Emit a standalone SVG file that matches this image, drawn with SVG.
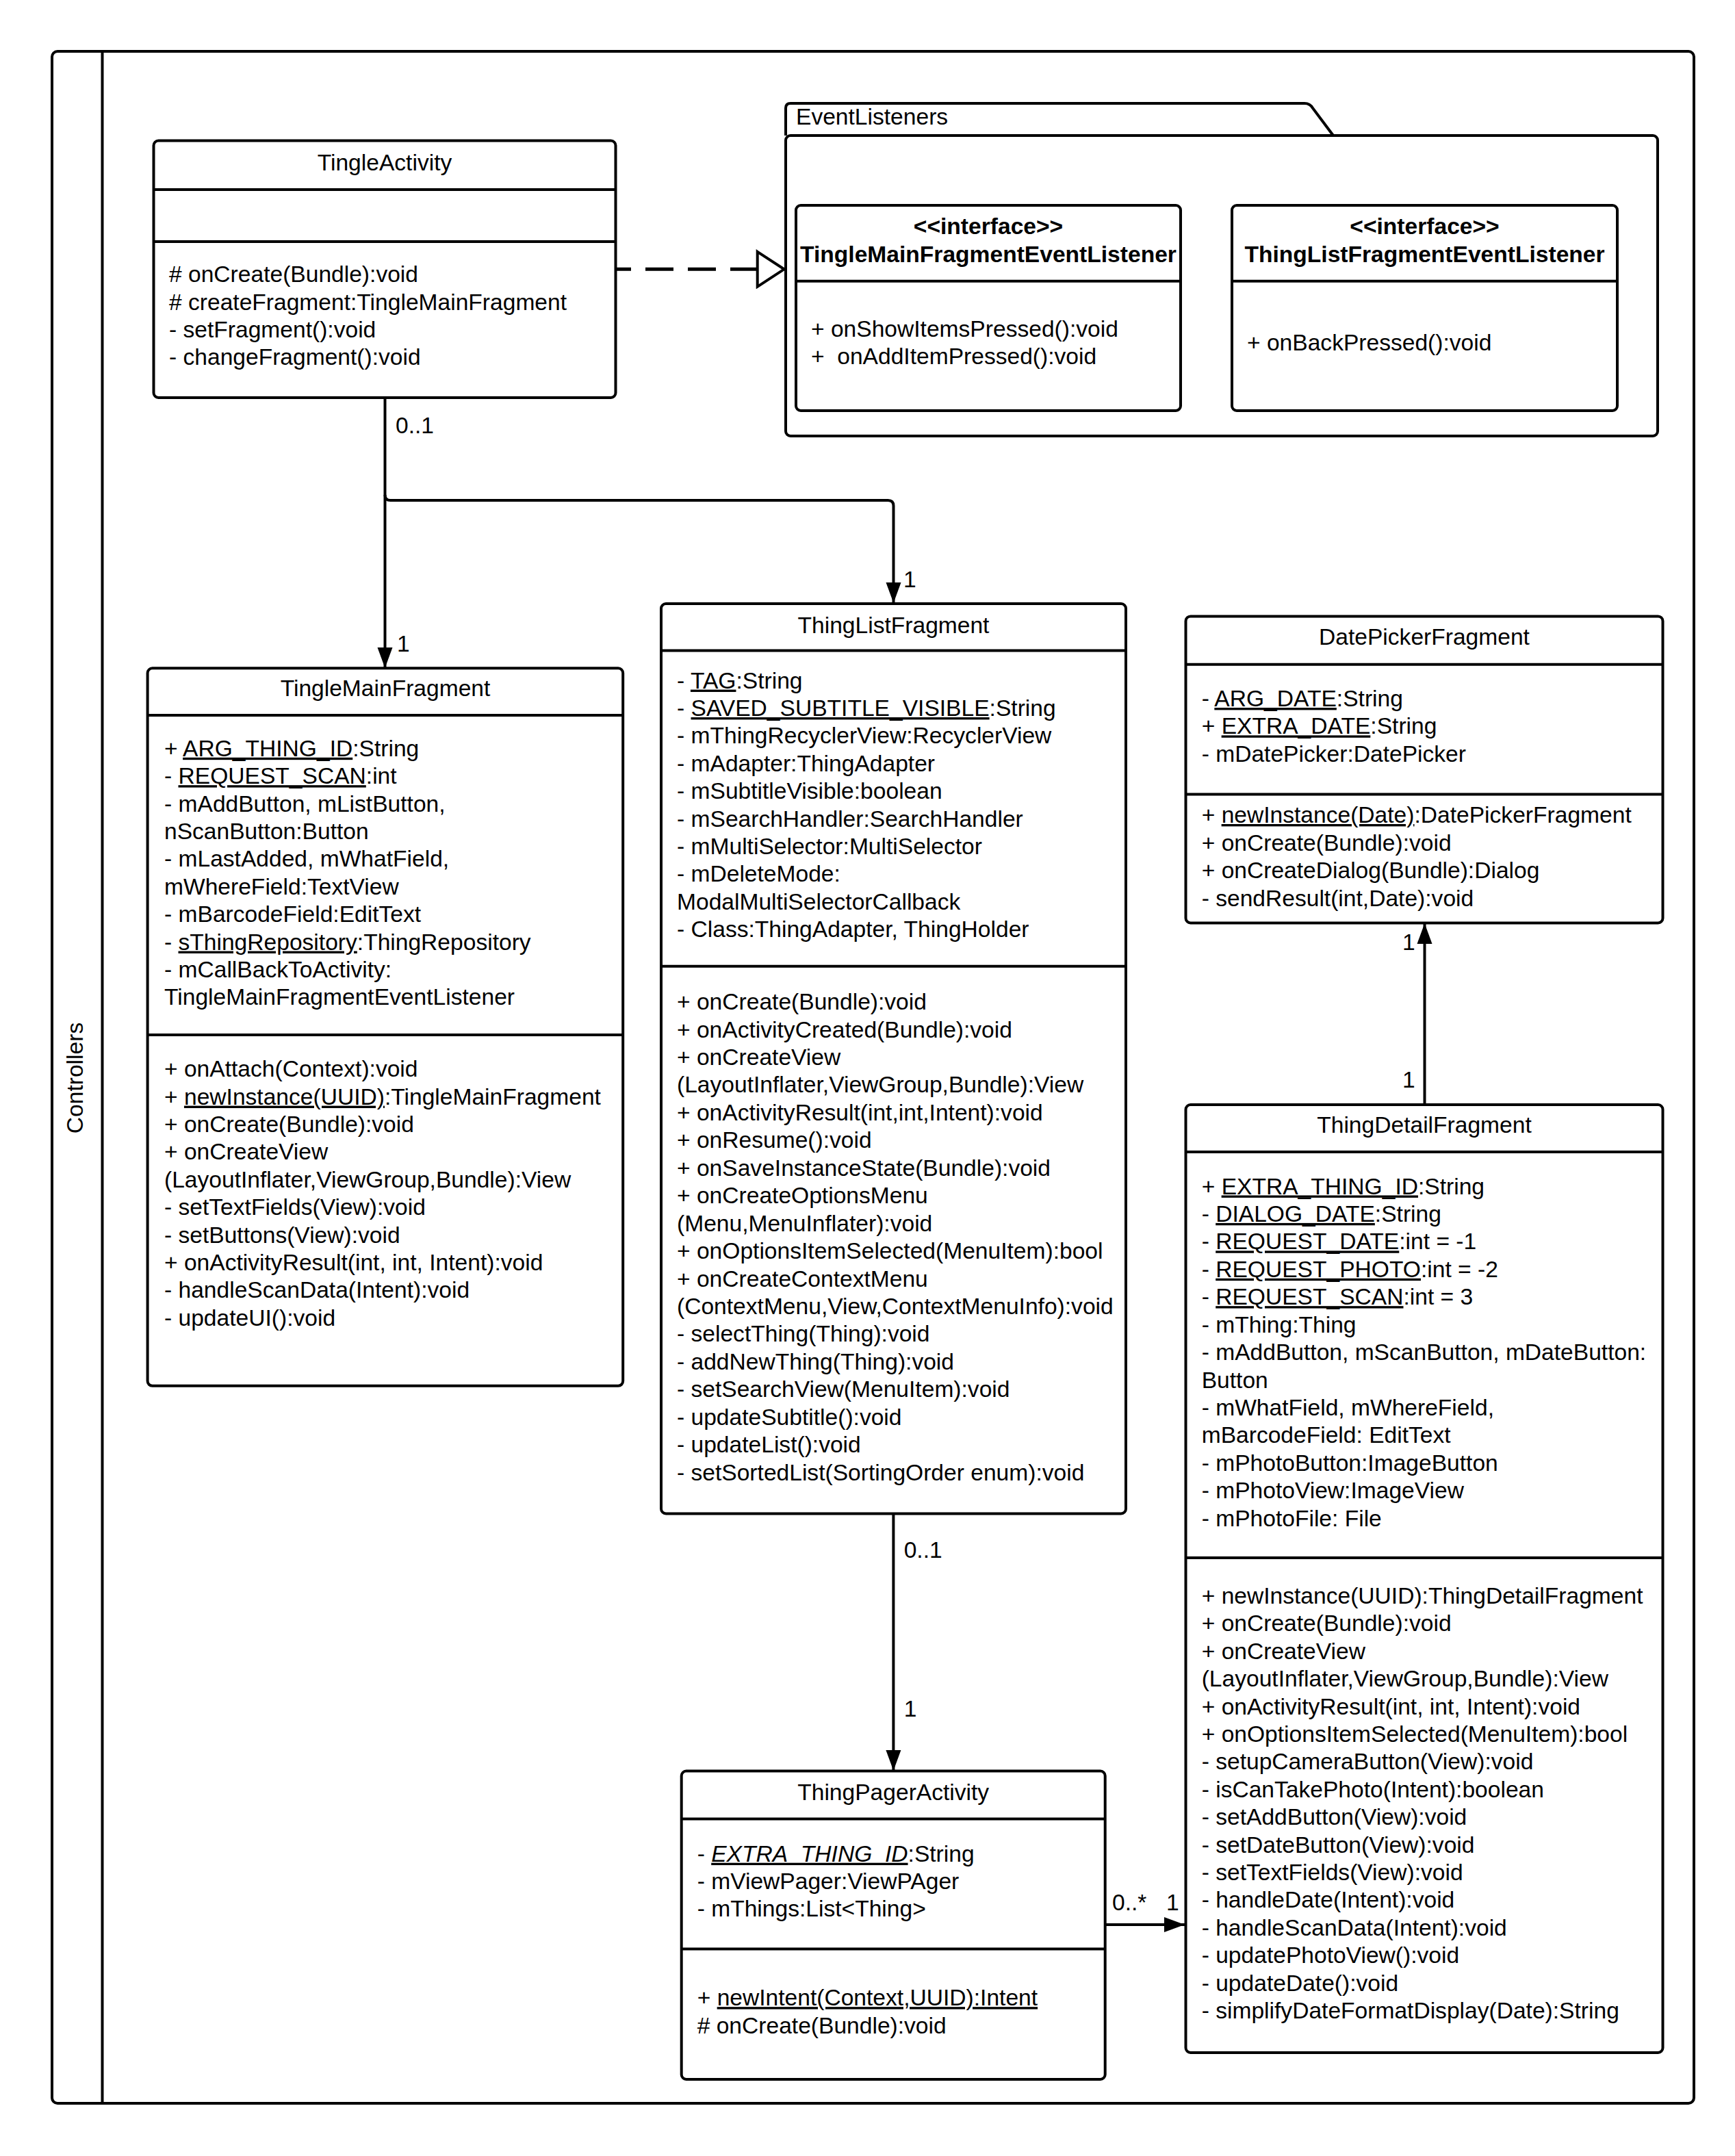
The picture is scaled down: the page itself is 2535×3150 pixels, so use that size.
<svg xmlns="http://www.w3.org/2000/svg" width="2535" height="3150" viewBox="0 0 2535 3150">
  <style>
    text { font-family: "Liberation Sans", Arial, Helvetica, sans-serif; font-size: 33.6px; fill: #000; }
    .c { text-anchor: middle; }
    .b { font-weight: bold; }
    .u { text-decoration: underline; }
    .i { font-style: italic; }
    .box { fill: #fff; stroke: #000; stroke-width: 4; }
    .sep { stroke: #000; stroke-width: 4; fill: none; }
    .frame { fill: none; stroke: #000; stroke-width: 4; }
    .wire { fill: none; stroke: #000; stroke-width: 4; }
    .dash { fill: none; stroke: #000; stroke-width: 5; stroke-dasharray: 41 21; stroke-dashoffset: 20; }
  </style>
  <defs>
    <!-- filled navigable-association arrowhead -->
    <marker id="arrow" markerUnits="userSpaceOnUse" markerWidth="32" markerHeight="24" viewBox="0 0 32 24" refX="30" refY="12" orient="auto">
      <path d="M0,1 L30,12 L0,23 z" fill="#000"/>
    </marker>
    <!-- hollow realization triangle -->
    <marker id="realize" markerUnits="userSpaceOnUse" markerWidth="46" markerHeight="58" viewBox="0 0 46 58" refX="3" refY="29" orient="auto">
      <path d="M3,3.5 L42,29 L3,54.5 z" fill="#fff" stroke="#000" stroke-width="4"/>
    </marker>
  </defs>

  <rect x="0" y="0" width="2535" height="3150" fill="#fff"/>

  <!-- swimlane frame -->
  <g id="controllers-lane">
    <rect class="frame" x="76" y="75" width="2399" height="2998" rx="8"/>
    <line class="sep" x1="149.5" y1="75" x2="149.5" y2="3073"/>
    <text class="c" transform="translate(120.5,1575) rotate(-90)">Controllers</text>
  </g>

  <!-- EventListeners package -->
  <g id="event-listeners-package">
    <path class="box" d="M1148,198 V158 Q1148,151 1155,151 H1906 Q1914,151 1918,158 L1948,198"/>
    <rect class="box" x="1148" y="198" width="1274" height="439" rx="7"/>
    <text x="1163" y="182">EventListeners</text>
  </g>

  <g id="TingleMainFragmentEventListener">
    <rect class="box" x="1163" y="300" width="562" height="300" rx="7"/>
    <line class="sep" x1="1163" y1="410.7" x2="1725" y2="410.7"/>
    <text class="c b" x="1444" y="342">&lt;&lt;interface&gt;&gt;</text>
    <text class="c b" x="1444" y="383">TingleMainFragmentEventListener</text>
    <text x="1185" y="492">+ onShowItemsPressed():void</text>
    <text x="1185" y="532" xml:space="preserve">+  onAddItemPressed():void</text>
  </g>

  <g id="ThingListFragmentEventListener">
    <rect class="box" x="1800" y="300" width="563" height="300" rx="7"/>
    <line class="sep" x1="1800" y1="410.7" x2="2363" y2="410.7"/>
    <text class="c b" x="2081.5" y="342">&lt;&lt;interface&gt;&gt;</text>
    <text class="c b" x="2081.5" y="383">ThingListFragmentEventListener</text>
    <text x="1822" y="512">+ onBackPressed():void</text>
  </g>

  <g id="TingleActivity">
    <rect class="box" x="224.5" y="205.5" width="675" height="375.5" rx="7"/>
    <line class="sep" x1="224.5" y1="277" x2="899.5" y2="277"/>
    <line class="sep" x1="224.5" y1="353" x2="899.5" y2="353"/>
    <text class="c" x="562" y="249">TingleActivity</text>
    <text x="247" y="412.2"># onCreate(Bundle):void</text>
    <text x="247" y="452.6"># createFragment:TingleMainFragment</text>
    <text x="247" y="493">- setFragment():void</text>
    <text x="247" y="533.4">- changeFragment():void</text>
  </g>

  <g id="TingleMainFragment">
    <rect class="box" x="215.6" y="976.3" width="694.6" height="1048.5" rx="7"/>
    <line class="sep" x1="215.6" y1="1045" x2="910.2" y2="1045"/>
    <line class="sep" x1="215.6" y1="1512" x2="910.2" y2="1512"/>
    <text class="c" x="563" y="1017">TingleMainFragment</text>
    <text x="240" y="1104.8">+ <tspan class="u">ARG_THING_ID</tspan>:String</text>
    <text x="240" y="1145.2">- <tspan class="u">REQUEST_SCAN</tspan>:int</text>
    <text x="240" y="1185.6">- mAddButton, mListButton,</text>
    <text x="240" y="1226">nScanButton:Button</text>
    <text x="240" y="1266.4">- mLastAdded, mWhatField,</text>
    <text x="240" y="1306.8">mWhereField:TextView</text>
    <text x="240" y="1347.2">- mBarcodeField:EditText</text>
    <text x="240" y="1387.6">- <tspan class="u">sThingRepository</tspan>:ThingRepository</text>
    <text x="240" y="1428">- mCallBackToActivity:</text>
    <text x="240" y="1468.4">TingleMainFragmentEventListener</text>
    <text x="240" y="1573.2">+ onAttach(Context):void</text>
    <text x="240" y="1613.6">+ <tspan class="u">newInstance(UUID)</tspan>:TingleMainFragment</text>
    <text x="240" y="1654">+ onCreate(Bundle):void</text>
    <text x="240" y="1694.4">+ onCreateView</text>
    <text x="240" y="1734.8">(LayoutInflater,ViewGroup,Bundle):View</text>
    <text x="240" y="1775.2">- setTextFields(View):void</text>
    <text x="240" y="1815.6">- setButtons(View):void</text>
    <text x="240" y="1856">+ onActivityResult(int, int, Intent):void</text>
    <text x="240" y="1896.4">- handleScanData(Intent):void</text>
    <text x="240" y="1936.8">- updateUI():void</text>
  </g>

  <g id="ThingListFragment">
    <rect class="box" x="966" y="882" width="679" height="1329.5" rx="7"/>
    <line class="sep" x1="966" y1="950.6" x2="1645" y2="950.6"/>
    <line class="sep" x1="966" y1="1411.8" x2="1645" y2="1411.8"/>
    <text class="c" x="1305.5" y="925">ThingListFragment</text>
    <text x="989" y="1005.6">- <tspan class="u">TAG</tspan>:String</text>
    <text x="989" y="1046">- <tspan class="u">SAVED_SUBTITLE_VISIBLE</tspan>:String</text>
    <text x="989" y="1086.4">- mThingRecyclerView:RecyclerView</text>
    <text x="989" y="1126.8">- mAdapter:ThingAdapter</text>
    <text x="989" y="1167.2">- mSubtitleVisible:boolean</text>
    <text x="989" y="1207.6">- mSearchHandler:SearchHandler</text>
    <text x="989" y="1248">- mMultiSelector:MultiSelector</text>
    <text x="989" y="1288.4">- mDeleteMode:</text>
    <text x="989" y="1328.8">ModalMultiSelectorCallback</text>
    <text x="989" y="1369.2">- Class:ThingAdapter, ThingHolder</text>
    <text x="989" y="1475">+ onCreate(Bundle):void</text>
    <text x="989" y="1515.5">+ onActivityCreated(Bundle):void</text>
    <text x="989" y="1555.9">+ onCreateView</text>
    <text x="989" y="1596.4">(LayoutInflater,ViewGroup,Bundle):View</text>
    <text x="989" y="1636.8">+ onActivityResult(int,int,Intent):void</text>
    <text x="989" y="1677.3">+ onResume():void</text>
    <text x="989" y="1717.7">+ onSaveInstanceState(Bundle):void</text>
    <text x="989" y="1758.2">+ onCreateOptionsMenu</text>
    <text x="989" y="1798.6">(Menu,MenuInflater):void</text>
    <text x="989" y="1839.1">+ onOptionsItemSelected(MenuItem):bool</text>
    <text x="989" y="1879.5">+ onCreateContextMenu</text>
    <text x="989" y="1920">(ContextMenu,View,ContextMenuInfo):void</text>
    <text x="989" y="1960.4">- selectThing(Thing):void</text>
    <text x="989" y="2000.9">- addNewThing(Thing):void</text>
    <text x="989" y="2041.3">- setSearchView(MenuItem):void</text>
    <text x="989" y="2081.8">- updateSubtitle():void</text>
    <text x="989" y="2122.2">- updateList():void</text>
    <text x="989" y="2162.7">- setSortedList(SortingOrder enum):void</text>
  </g>

  <g id="DatePickerFragment">
    <rect class="box" x="1732.5" y="900.4" width="697" height="448" rx="7"/>
    <line class="sep" x1="1732.5" y1="970.8" x2="2429.5" y2="970.8"/>
    <line class="sep" x1="1732.5" y1="1160.6" x2="2429.5" y2="1160.6"/>
    <text class="c" x="2081" y="942">DatePickerFragment</text>
    <text x="1755.7" y="1032">- <tspan class="u">ARG_DATE</tspan>:String</text>
    <text x="1755.7" y="1072.4">+ <tspan class="u">EXTRA_DATE</tspan>:String</text>
    <text x="1755.7" y="1112.8">- mDatePicker:DatePicker</text>
    <text x="1755.7" y="1202">+ <tspan class="u">newInstance(Date)</tspan>:DatePickerFragment</text>
    <text x="1755.7" y="1242.6">+ onCreate(Bundle):void</text>
    <text x="1755.7" y="1283.2">+ onCreateDialog(Bundle):Dialog</text>
    <text x="1755.7" y="1323.8">- sendResult(int,Date):void</text>
  </g>

  <g id="ThingDetailFragment">
    <rect class="box" x="1732.5" y="1614" width="697" height="1385" rx="7"/>
    <line class="sep" x1="1732.5" y1="1683" x2="2429.5" y2="1683"/>
    <line class="sep" x1="1732.5" y1="2276" x2="2429.5" y2="2276"/>
    <text class="c" x="2081" y="1655">ThingDetailFragment</text>
    <text x="1755.7" y="1744.5">+ <tspan class="u">EXTRA_THING_ID</tspan>:String</text>
    <text x="1755.7" y="1784.9">- <tspan class="u">DIALOG_DATE</tspan>:String</text>
    <text x="1755.7" y="1825.4">- <tspan class="u">REQUEST_DATE</tspan>:int = -1</text>
    <text x="1755.7" y="1865.8">- <tspan class="u">REQUEST_PHOTO</tspan>:int = -2</text>
    <text x="1755.7" y="1906.2">- <tspan class="u">REQUEST_SCAN</tspan>:int = 3</text>
    <text x="1755.7" y="1946.7">- mThing:Thing</text>
    <text x="1755.7" y="1987.1">- mAddButton, mScanButton, mDateButton:</text>
    <text x="1755.7" y="2027.5">Button</text>
    <text x="1755.7" y="2067.9">- mWhatField, mWhereField,</text>
    <text x="1755.7" y="2108.4">mBarcodeField: EditText</text>
    <text x="1755.7" y="2148.8">- mPhotoButton:ImageButton</text>
    <text x="1755.7" y="2189.2">- mPhotoView:ImageView</text>
    <text x="1755.7" y="2229.7">- mPhotoFile: File</text>
    <text x="1755.7" y="2343">+ newInstance(UUID):ThingDetailFragment</text>
    <text x="1755.7" y="2383.4">+ onCreate(Bundle):void</text>
    <text x="1755.7" y="2423.8">+ onCreateView</text>
    <text x="1755.7" y="2464.2">(LayoutInflater,ViewGroup,Bundle):View</text>
    <text x="1755.7" y="2504.6">+ onActivityResult(int, int, Intent):void</text>
    <text x="1755.7" y="2545">+ onOptionsItemSelected(MenuItem):bool</text>
    <text x="1755.7" y="2585.4">- setupCameraButton(View):void</text>
    <text x="1755.7" y="2625.8">- isCanTakePhoto(Intent):boolean</text>
    <text x="1755.7" y="2666.2">- setAddButton(View):void</text>
    <text x="1755.7" y="2706.6">- setDateButton(View):void</text>
    <text x="1755.7" y="2747">- setTextFields(View):void</text>
    <text x="1755.7" y="2787.4">- handleDate(Intent):void</text>
    <text x="1755.7" y="2827.8">- handleScanData(Intent):void</text>
    <text x="1755.7" y="2868.2">- updatePhotoView():void</text>
    <text x="1755.7" y="2908.6">- updateDate():void</text>
    <text x="1755.7" y="2949">- simplifyDateFormatDisplay(Date):String</text>
  </g>

  <g id="ThingPagerActivity">
    <rect class="box" x="995.7" y="2587.5" width="619" height="450.5" rx="7"/>
    <line class="sep" x1="995.7" y1="2657.6" x2="1614.7" y2="2657.6"/>
    <line class="sep" x1="995.7" y1="2847.6" x2="1614.7" y2="2847.6"/>
    <text class="c" x="1305.2" y="2630">ThingPagerActivity</text>
    <text x="1018.7" y="2719.7">- <tspan class="u i">EXTRA_THING_ID</tspan>:String</text>
    <text x="1018.7" y="2759.9">- mViewPager:ViewPAger</text>
    <text x="1018.7" y="2800.1">- mThings:List&lt;Thing&gt;</text>
    <text x="1018.7" y="2930.2">+ <tspan class="u">newIntent(Context,UUID):Intent</tspan></text>
    <text x="1018.7" y="2970.6"># onCreate(Bundle):void</text>
  </g>

  <!-- relationships -->
  <g id="connectors">
    <path class="dash" d="M901,393.3 H1106.7" marker-end="url(#realize)"/>
    <path class="wire" d="M562.5,581 V976" marker-end="url(#arrow)"/>
    <path class="wire" d="M562.5,723 Q562.5,731 570.5,731 H1297.5 Q1305.5,731 1305.5,739 V881" marker-end="url(#arrow)"/>
    <path class="wire" d="M1305.4,2212 V2587" marker-end="url(#arrow)"/>
    <path class="wire" d="M2081.5,1613 V1349" marker-end="url(#arrow)"/>
    <path class="wire" d="M1615,2812 H1731" marker-end="url(#arrow)"/>
    <text x="578" y="632.7">0..1</text>
    <text x="580" y="952">1</text>
    <text x="1320" y="857.6">1</text>
    <text x="1320.7" y="2276.4">0..1</text>
    <text x="1320.7" y="2508.3">1</text>
    <text x="2049" y="1388">1</text>
    <text x="2049" y="1589">1</text>
    <text x="1625" y="2790.7">0..*</text>
    <text x="1704" y="2790.7">1</text>
  </g>
</svg>
